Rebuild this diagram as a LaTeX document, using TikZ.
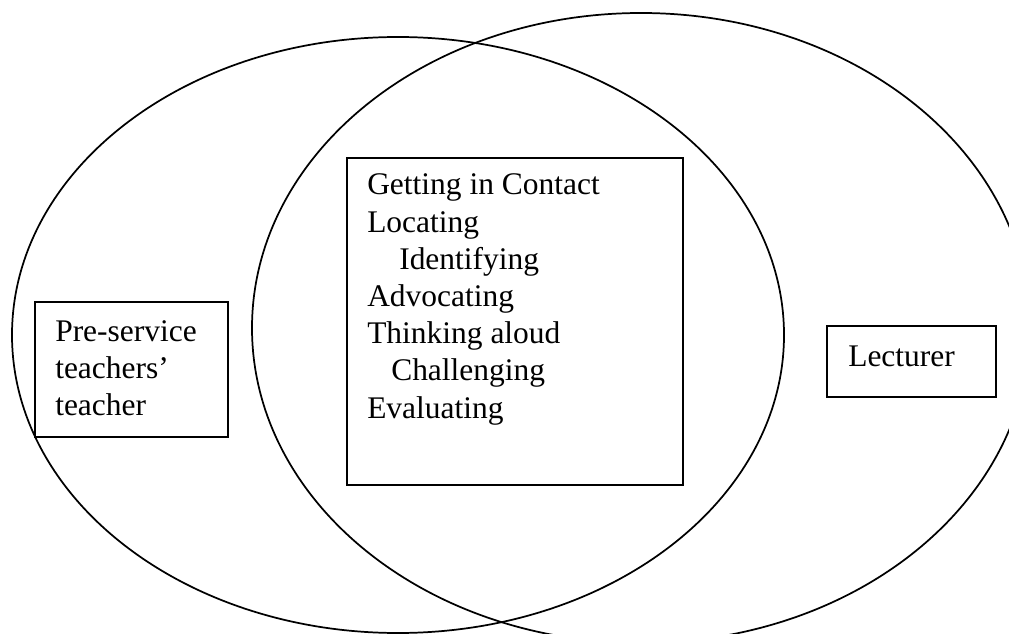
\documentclass[tikz,border=0pt]{standalone}
\usepackage{fontspec}
\setmainfont{Liberation Serif}
\begin{document}
\begin{tikzpicture}[x=0.75pt,y=-0.75pt,
  oval/.style={draw=black, line width=1.3pt},
  box/.style={draw=black, fill=white, line width=1.4pt, inner sep=0pt},
  txt/.style={inner sep=0pt, anchor=base west, font=\fontsize{23.6}{27.9}\selectfont}]
\useasboundingbox (0,0) rectangle (1009,634);
\begin{scope}
  \clip (0,0) rectangle (1009,634);
  \draw[oval] (398,335) ellipse [x radius=289.5pt, y radius=223.5pt];
  \draw[oval] (641,328) ellipse [x radius=291.75pt, y radius=236.25pt];
\end{scope}
% boxes
\node[box, minimum width=144.75pt, minimum height=101.25pt] (pbox) at (131.5,369.5) {};
\node[box, minimum width=252pt, minimum height=245.25pt] (mbox) at (515,321.5) {};
\node[box, minimum width=126.75pt, minimum height=53.25pt] (lbox) at (911.5,361.5) {};
% texts
\node[txt] (ptext) at (55,341) {\begin{tabular}[t]{@{}l@{}}Pre-service\\teachers’\\teacher\end{tabular}};
\node[txt] (mtext) at (367,195) {\begin{tabular}[t]{@{}l@{}}Getting in Contact\\Locating\\\hspace*{24pt}Identifying\\Advocating\\Thinking aloud\\\hspace*{18pt}Challenging\\Evaluating\end{tabular}};
\node[txt] (ltext) at (848,366) {Lecturer};
\end{tikzpicture}
\end{document}
